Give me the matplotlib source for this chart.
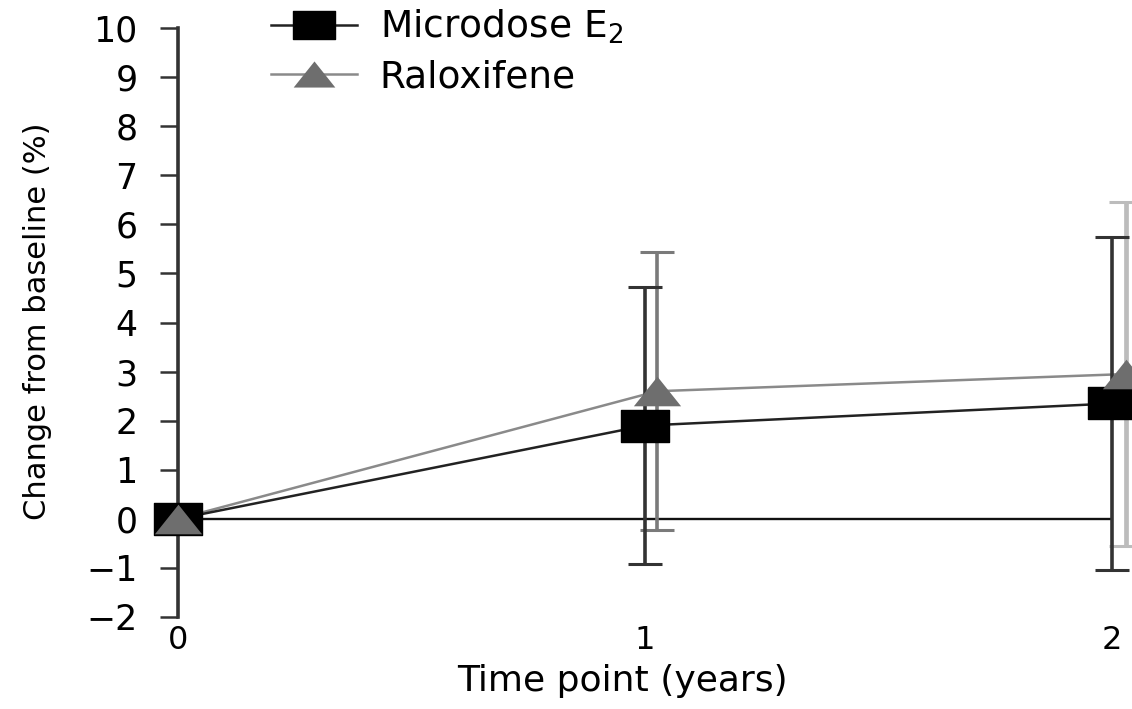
import numpy as np
import matplotlib.pyplot as plt
from matplotlib.lines import Line2D
from matplotlib.path import Path

plt.rcParams['font.family'] = ['DejaVu Sans']

years = [0, 1, 2]
micro_mean = [0.0, 1.9, 2.35]
micro_err = [0.0, 2.83, 3.4]
ralox_mean = [0.0, 2.6, 2.95]
ralox_err = [0.0, 2.83, 3.5]
ralox_shift = [0.0, 0.026, 0.03]

# the original figure is stretched sideways, so the markers are wide
wide_square = Path([(-0.75, -0.5), (0.75, -0.5), (0.75, 0.5), (-0.75, 0.5), (-0.75, -0.5)],
                   closed=True)
wide_tri = Path([(-0.75, -0.47), (0.75, -0.47), (0.0, 0.47), (-0.75, -0.47)], closed=True)

fig = plt.figure(figsize=(11.32, 7.09), dpi=100)
ax = fig.add_axes([178 / 1132, 92 / 709, 954 / 1132, 589 / 709])

# reference line at zero
ax.hlines(0, 0, 2, color='#111111', lw=1.7, zorder=1)

# raloxifene
rx = np.array(years) + np.array(ralox_shift)
ax.plot(rx, ralox_mean, color='#8a8a8a', lw=1.8, zorder=2, clip_on=False)
ax.errorbar(rx[1], ralox_mean[1], yerr=ralox_err[1], fmt='none', ecolor='#7a7a7a',
            elinewidth=2.6, capsize=12, capthick=2.2, zorder=2, clip_on=False)
ax.errorbar(rx[2], ralox_mean[2], yerr=ralox_err[2], fmt='none', ecolor='#bcbcbc',
            elinewidth=3.4, capsize=12, capthick=2.2, zorder=2, clip_on=False)

# microdose
ax.plot(years, micro_mean, color='#222222', lw=1.8, zorder=3, clip_on=False)
ax.errorbar(years[1:], micro_mean[1:], yerr=micro_err[1:], fmt='none', ecolor='#333333',
            elinewidth=2.6, capsize=12, capthick=2.2, zorder=3, clip_on=False)
ax.plot(years, micro_mean, ls='none', marker=wide_square, color='black', ms=34,
        zorder=4, clip_on=False)
ax.plot(rx, ralox_mean, ls='none', marker=wide_tri, color='#6e6e6e', ms=34, mew=0,
        zorder=5, clip_on=False)

ax.set_xlim(0, 954 / 467)
ax.set_ylim(-2, 10)
ax.set_yticks(range(-2, 11))
ax.set_yticklabels([str(v).replace('-', '\u2212') for v in range(-2, 11)])
ax.set_xticks([0, 1, 2])

for s in ['top', 'right', 'bottom']:
    ax.spines[s].set_visible(False)
ax.spines['left'].set_color('#333333')
ax.spines['left'].set_linewidth(2.6)
ax.tick_params(axis='y', length=13, width=1.8, color='#333333', labelsize=25, pad=16)
ax.tick_params(axis='x', length=0, labelsize=23, pad=6)

ax.set_ylabel('Change from baseline (%)', fontsize=22)
ax.yaxis.set_label_coords(-0.132, 0.5025)
ax.set_xlabel('Time point (years)', fontsize=26)
ax.xaxis.set_label_coords(0.466, -0.08)

handles = [
    Line2D([], [], color='#222222', lw=1.8, marker=wide_square, ms=30, mfc='black',
           mec='black'),
    Line2D([], [], color='#8a8a8a', lw=1.8, marker=wide_tri, ms=30, mfc='#6e6e6e', mew=0),
]
fig.legend(handles, ['Microdose E$_2$', 'Raloxifene'], loc='upper left',
           bbox_to_anchor=(271 / 1132, 1 - 8 / 709), frameon=False, fontsize=27,
           handlelength=2.3, handletextpad=0.6, labelspacing=0.35,
           borderpad=0, borderaxespad=0)

fig.savefig('out.png', dpi=100)
